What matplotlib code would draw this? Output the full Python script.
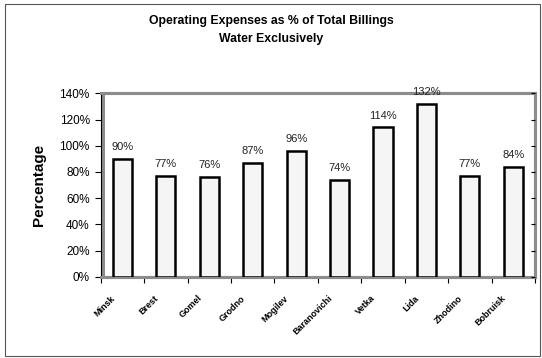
import matplotlib.pyplot as plt
from matplotlib.patches import Rectangle
from matplotlib.transforms import ScaledTranslation, blended_transform_factory

cities = ["Minsk", "Brest", "Gomel", "Grodno", "Mogilev", "Baranovichi",
          "Vetka", "Lida", "Zhodino", "Bobruisk"]
expense_pct = [90, 77, 76, 87, 96, 74, 114, 132, 77, 84]
y_ticks = [0, 20, 40, 60, 80, 100, 120, 140]

plt.rcParams['font.family'] = ['Liberation Sans', 'DejaVu Sans']

fig = plt.figure(figsize=(5.42, 3.58), dpi=100)
fig.patches.append(Rectangle((0.010, 0.006), 0.987, 0.984, transform=fig.transFigure,
                             fill=False, edgecolor='#555555', linewidth=0.8))

ax = fig.add_axes([0.186, 0.227, 0.801, 0.512])
x = list(range(len(cities)))
bars = ax.bar(x, expense_pct, width=0.44, color='#f5f5f5', edgecolor='black',
              linewidth=1.8, zorder=3)
for xi, v in zip(x, expense_pct):
    ax.annotate(f"{v}%", (xi, v), xytext=(0, 5), textcoords='offset points',
                ha='center', va='bottom', fontsize=8, color='#222222', zorder=4)

ax.set_xlim(-0.5, len(cities) - 0.5)
ax.set_ylim(0, 140)
ax.set_yticks(y_ticks)
ax.set_yticklabels([f"{t}%" for t in y_ticks], fontsize=8.5)
ax.set_xticks([i + 0.5 for i in x[:-1]] + [-0.5, len(cities) - 0.5])
ax.set_xticklabels([])
ax.tick_params(axis='x', length=4, width=0.8, direction='out')
ax.tick_params(axis='y', length=4, width=0.8, direction='out', pad=4)

# category names, rotated and set slightly left of each bar
label_tf = blended_transform_factory(ax.transData, ax.transAxes) + \
    ScaledTranslation(-12 / 100, -17 / 100, fig.dpi_scale_trans)
for xi, name in zip(x, cities):
    ax.text(xi, 0, name, transform=label_tf, rotation=45, ha='right', va='top',
            rotation_mode='anchor', fontsize=6.5, fontweight='bold', clip_on=False)

for side in ['top', 'right', 'bottom']:
    ax.spines[side].set_color('#8c8c8c')
    ax.spines[side].set_linewidth(2.2)
ax.spines['left'].set_color('black')
ax.spines['left'].set_linewidth(0.8)
ax.add_patch(Rectangle((0.004, 0), 0.996, 1, transform=ax.transAxes, fill=False,
                       edgecolor='#8c8c8c', linewidth=2.2, zorder=2, clip_on=False))

ax2 = ax.twinx()
ax2.set_ylim(0, 140)
ax2.set_yticks(y_ticks)
ax2.set_yticklabels([])
ax2.tick_params(axis='y', direction='in', length=3, width=0.8)
for s in ax2.spines.values():
    s.set_visible(False)

ax.set_ylabel("Percentage", fontsize=11, fontweight='bold', labelpad=10)
fig.text(0.5, 0.942, "Operating Expenses as % of Total Billings", ha='center',
         va='center', fontsize=8.8, fontweight='bold')
fig.text(0.5, 0.890, "Water Exclusively", ha='center', va='center',
         fontsize=8.8, fontweight='bold')

fig.savefig("out.png", dpi=100)
